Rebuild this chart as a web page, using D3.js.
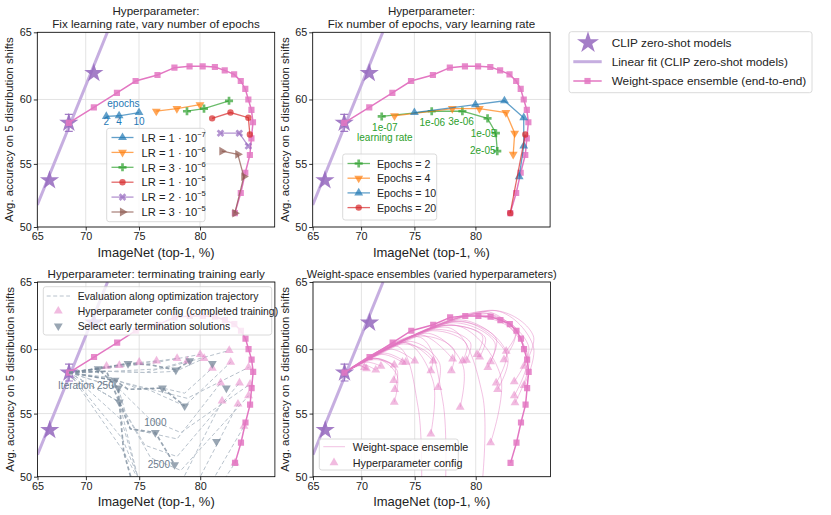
<!DOCTYPE html>
<html><head><meta charset="utf-8">
<script src="https://cdn.jsdelivr.net/npm/d3@7"></script>
<style>
body{margin:0;background:#fff}
svg text{font-family:"Liberation Sans","DejaVu Sans",sans-serif;fill:#222}
</style></head><body>
<svg id="fig" width="831" height="515"></svg>
<script>
// ---- data ----
var xTicks=[65,70,75,80], yTicks=[50,55,60,65];

// CLIP zero-shot models and linear fit
var clipX=[66.3,68.3,70.8], clipY=[53.7,58.2,62.0];
var clipErr=0.65;
var fitX=[65,72.1], fitY=[51.75,65];

// weight-space ensemble (end-to-end), alpha 0 .. 1
var wiseX=[68.3,70.8,73.0,74.7,76.6,78.0,79.2,80.2,81.1,81.8,82.45,82.9,83.2,83.4,83.6,83.7,83.6,83.5,83.2,82.9,82.5];
var wiseY=[58.2,59.4,60.5,61.4,61.85,62.4,62.5,62.5,62.45,62.2,61.9,61.4,60.8,60.0,59.2,58.25,57.0,55.7,54.3,52.7,51.1];

// fix learning rate, vary epochs (2, 4, 10, 20)
var lrMant=[1,1,3,1,2,3], lrExp=[-7,-6,-6,-5,-5,-5];
var lrX=[[72.0,73.2,75.0],[76.5,78.2,80.0],[79.0,80.3,82.1],[80.9,82.2,83.4,83.5],[81.5,82.8,83.4],[81.6,82.7,83.1,82.5]];
var lrY=[[58.7,58.75,59.0],[59.1,59.3,59.6],[59.1,59.3,59.9],[58.55,59.0,58.6,57.3],[57.4,57.4,56.4],[56.0,55.75,54.0,51.1]];
var epochs=[2,4,10,20];

// fix epochs, vary learning rate
var epX=[[72.0,76.5,79.0,80.9,81.5,81.6],[73.2,78.2,80.3,82.2,82.8,82.7],[75.0,80.0,82.1,83.4,83.4,83.1],[83.5,82.5]];
var epY=[[58.7,59.1,59.1,58.55,57.4,56.0],[58.75,59.3,59.3,59.0,57.4,55.75],[59.0,59.6,59.9,58.6,56.4,54.0],[57.3,51.1]];
var lrLabels=['1e-07','1e-06','3e-06','1e-05','2e-05','learning rate'];
var lrLabelX=[72.3,76.55,78.9,80.6,80.55,72.3], lrLabelY=[57.6,57.97,58.0,57.1,55.74,56.8];

// early termination: evaluations along each optimization trajectory (light dashed)
var trajX=[[68.3,70.0,72.0],[68.3,70.5,73.2],[68.3,71.0,75.0],[68.3,71.0,74.0,76.5],[68.3,71.5,75.0,78.2],[68.3,71.5,76.0,80.0],
  [68.3,72.0,75.5,79.0],[68.3,72.0,76.0,78.1,80.3],[68.3,72.5,77.0,82.1],[68.3,72.5,75.0,77.0,78.8,80.9],
  [68.3,72.8,76.0,78.8,82.2],[68.3,72.8,76.5,79.0,83.4],[68.3,73.1,76.0,78.5,83.5],[68.3,73.1,74.2,78.2,81.5],
  [68.3,73.2,75.5,78.2,82.8],[68.3,73.2,76.0,78.5,83.4],[68.3,73.2,75.0,78.0,81.6],[68.3,73.4,75.5,79.0,82.7],
  [68.3,73.5,76.0,80.0,83.1],[68.3,73.6,76.5,81.0,82.5]];
var trajY=[[58.2,58.4,58.7],[58.2,58.4,58.75],[58.2,58.5,59.0],[58.2,58.5,58.9,59.1],[58.2,58.5,58.9,59.3],[58.2,58.5,58.9,59.6],
  [58.2,58.3,58.2,59.1],[58.2,58.3,58.2,58.3,59.3],[58.2,58.3,58.5,59.9],[58.2,57.8,56.9,57.0,56.6,58.55],
  [58.2,57.6,56.8,55.6,59.0],[58.2,57.6,56.8,56.2,58.6],[58.2,57.0,54.5,53.5,57.3],[58.2,57.0,53.8,53.0,57.4],
  [58.2,55.9,52.5,51.6,57.4],[58.2,55.9,51.5,50.5,56.4],[58.2,55.9,49.5,48.5,56.0],[58.2,54.5,48.0,48.0,55.75],
  [58.2,53.0,47.5,48.0,54.0],[58.2,52.0,47.0,48.5,51.1]];
// select early termination solutions (dark dashed) and their points
var earlyX=[[68.3,71.2,73.1,73.2,73.6,74.3,74.6],[68.3,72.8,74.0,77.0,78.8],[68.3,71.2,74.0,76.0,78.1,79.2],[68.3,72.0,73.2,74.2,76.4,78.0]];
var earlyY=[[58.2,58.5,57.0,55.9,52.0,49.8,48.5],[58.2,57.6,56.9,57.0,55.6],[58.2,58.5,58.9,58.8,58.4,59.1],[58.2,58.3,55.9,53.8,53.5,50.95]];
var earlyPtX=[71.2,72.8,73.1,73.2,74.0,77.0,78.1,78.8,79.2,80.9,81.9,81.2,76.4,78.0];
var earlyPtY=[58.5,57.6,57.0,55.9,58.9,57.0,58.4,55.6,59.1,58.9,57.0,52.8,53.5,50.95];
var iterLabels=['Iteration 250','1000','2500'], iterLabX=[70.0,76.4,76.7], iterLabY=[56.95,54.05,50.7];

// varied hyperparameters: end point, peak and shoulder of each ensemble curve
var hpX=[70.3,70.5,71.4,71.9,73.15,73.1,73.2,73.15,73.9,74.2,75.0,76.4,76.6,76.4,77.0,78.1,78.2,78.8,79.0,79.3,80.1,80.3,80.9,81.1,81.1,81.5,81.6,82.05,82.2,82.75,82.75,82.8,83.4,83.4,75.6,77.6,80.4];
var hpY=[58.6,58.5,58.4,58.7,58.8,57.6,56.9,55.9,59.0,59.0,59.1,58.35,59.1,53.4,57.05,58.35,59.25,55.5,59.1,59.15,59.6,59.4,58.6,59.05,52.7,57.4,56.9,59.2,59.85,57.5,56.4,55.85,58.7,57.2,48.5,48.5,48.5];
var hpPkX=[69.5,69.6,70.2,70.5,71.3,71.3,71.4,71.4,72.0,72.2,72.8,74.0,74.2,74.2,74.6,75.5,75.5,76.2,76.5,76.8,77.5,77.6,78.3,78.4,78.5,79.0,79.0,79.6,79.8,80.8,80.8,81.0,81.5,81.5,73.5,75.5,78.0];
var hpPkY=[58.8,58.75,58.8,59.0,59.3,59.2,59.3,59.3,59.6,59.7,60.0,60.4,60.5,60.5,60.6,61.0,61.1,61.2,61.4,61.5,61.8,61.8,62.0,62.1,61.8,62.2,62.1,62.5,62.6,62.7,62.7,62.8,62.9,62.9,60.2,60.9,61.6];
var hpShX=[NaN,NaN,NaN,NaN,NaN,73.2,73.4,73.4,NaN,NaN,NaN,76.5,NaN,76.6,77.1,78.3,NaN,79.0,79.3,79.6,80.5,80.7,81.4,81.5,81.8,82.2,82.3,82.8,82.9,83.7,83.6,83.7,84.0,84.0,75.3,77.4,80.5];
var hpShY=[NaN,NaN,NaN,NaN,NaN,58.6,58.4,58.0,NaN,NaN,NaN,59.4,NaN,57.5,59.0,60.0,NaN,58.8,60.4,60.5,61.0,60.9,60.5,60.8,58.0,59.8,59.4,61.2,61.5,60.2,59.5,59.3,61.0,60.2,55.5,56.0,56.5];

// ---- drawing ----
var svg=d3.select('#fig');
var W=237.4, H=194.7;
var C={purple:'#9467bd',fit:'#c6aee0',pink:'#e377c2',blue:'#1f77b4',orange:'#ff7f0e',green:'#2ca02c',red:'#d62728',brown:'#8c564b',slate:'#778899'};
var lrColors=[C.blue,C.orange,C.green,C.red,C.purple,C.brown];
var epColors=[C.green,C.orange,C.blue,C.red];

function logit(v){var p=v/100;return Math.log(p/(1-p));}
function scaleLogit(dom,rng){
  var lin=d3.scaleLinear().domain(dom.map(logit)).range(rng);
  function s(v){return lin(logit(v));}
  s.domain=function(){return dom;};
  s.range=function(){return rng;};
  s.copy=function(){return scaleLogit(dom,rng);};
  return s;
}
function zip(a,b){return a.map(function(v,i){return [v,b[i]];});}

// marker shapes like matplotlib ^ v P o X >
var shapes={
  up:{t:d3.symbolTriangle,r:0,s:34},
  down:{t:d3.symbolTriangle,r:180,s:34},
  right:{t:d3.symbolTriangle,r:90,s:34},
  plus:{t:d3.symbolCross,r:0,s:36},
  xx:{t:d3.symbolCross,r:45,s:36},
  circle:{t:d3.symbolCircle,r:0,s:32},
  square:{t:d3.symbolSquare,r:0,s:38},
  star:{t:d3.symbolStar,r:0,s:115}
};
var lrShapes=['up','down','plus','circle','xx','right'];
var epShapes=['plus','down','up','circle'];

function marker(g,name,cx,cy,color,op,size){
  var sh=shapes[name];
  return g.append('path').attr('d',d3.symbol(sh.t,size||sh.s)())
    .attr('transform','translate('+cx+','+cy+') rotate('+sh.r+')')
    .attr('fill',color).attr('fill-opacity',op);
}

function makePanel(p){
  var P={};
  P.x=scaleLogit([65,85.05],[p.left,p.left+W]);
  P.y=scaleLogit([50,65],[p.top+H,p.top]);
  var g=svg.append('g');
  g.selectAll('.gx').data(xTicks).enter().append('line')
    .attr('x1',P.x).attr('x2',P.x).attr('y1',p.top).attr('y2',p.top+H)
    .attr('stroke','#dcdcdc').attr('stroke-width',0.8);
  g.selectAll('.gy').data(yTicks).enter().append('line')
    .attr('y1',P.y).attr('y2',P.y).attr('x1',p.left).attr('x2',p.left+W)
    .attr('stroke','#dcdcdc').attr('stroke-width',0.8);
  svg.append('clipPath').attr('id','clip-'+p.id).append('rect')
    .attr('x',p.left).attr('y',p.top).attr('width',W).attr('height',H);
  P.plot=svg.append('g').attr('clip-path','url(#clip-'+p.id+')');
  P.top=svg.append('g');
  P.line=d3.line().x(function(d){return P.x(d[0]);}).y(function(d){return P.y(d[1]);});
  P.curve=d3.line().curve(d3.curveCatmullRom).x(function(d){return P.x(d[0]);}).y(function(d){return P.y(d[1]);});
  P.p=p;
  return P;
}

function finishPanel(P){
  var p=P.p, g=svg.append('g');
  var ax=g.append('g').attr('transform','translate(0,'+(p.top+H)+')')
    .call(d3.axisBottom(P.x).tickValues(xTicks).tickSize(3.5).tickPadding(2).tickFormat(d3.format('d')));
  var ay=g.append('g').attr('transform','translate('+p.left+',0)')
    .call(d3.axisLeft(P.y).tickValues(yTicks).tickSize(3.5).tickPadding(2).tickFormat(d3.format('d')));
  [ax,ay].forEach(function(a){
    a.select('.domain').remove();
    a.selectAll('line').attr('stroke','#000').attr('stroke-width',0.8);
    a.selectAll('text').attr('font-size',10.8).attr('fill','#222').style('font-family','"Liberation Sans",sans-serif');
  });
  g.append('rect').attr('x',p.left).attr('y',p.top).attr('width',W).attr('height',H)
    .attr('fill','none').attr('stroke','#000').attr('stroke-width',0.8);
  var cx=p.left+W/2;
  p.title.forEach(function(t,i){
    g.append('text').attr('x',cx).attr('y',p.top-(p.title.length-1-i)*12.5-4.5)
      .attr('text-anchor','middle').attr('font-size',p.tsize||11.6).text(t);
  });
  g.append('text').attr('x',cx).attr('y',p.top+H+29.5).attr('text-anchor','middle')
    .attr('font-size',13).text('ImageNet (top-1, %)');
  g.append('text').attr('transform','translate('+(p.left-24)+','+(p.top+H/2)+') rotate(-90)')
    .attr('text-anchor','middle').attr('font-size',11.4).text('Avg. accuracy on 5 distribution shifts');
}

function drawCommon(P){
  var g=P.plot;
  g.append('path').attr('d',P.line(zip(fitX,fitY))).attr('stroke',C.fit).attr('stroke-width',3).attr('fill','none');
  clipX.forEach(function(v,i){ marker(g,'star',P.x(v),P.y(clipY[i]),C.purple,0.85); });
  var ex=P.x(clipX[1]);
  g.append('path').attr('d','M'+(ex-4)+','+P.y(clipY[1]+clipErr)+'h8M'+ex+','+P.y(clipY[1]+clipErr)+'V'+P.y(clipY[1]-clipErr)+'M'+(ex-4)+','+P.y(clipY[1]-clipErr)+'h8')
    .attr('stroke',C.purple).attr('stroke-opacity',0.85).attr('stroke-width',1.2).attr('fill','none');
  g.append('path').attr('d',P.line(zip(wiseX,wiseY))).attr('stroke',C.pink).attr('stroke-width',1.5).attr('fill','none');
  wiseX.forEach(function(v,i){ marker(g,'square',P.x(v),P.y(wiseY[i]),C.pink,0.85); });
}

function legendBox(x0,y0,x1,y1){
  svg.append('rect').attr('x',x0).attr('y',y0).attr('width',x1-x0).attr('height',y1-y0).attr('rx',2.5)
    .attr('fill','#fff').attr('fill-opacity',0.8).attr('stroke','#d0d0d0').attr('stroke-width',0.8);
}

function series(P,xs,ys,colors,shp){
  xs.forEach(function(arr,k){
    P.plot.append('path').attr('d',P.line(zip(arr,ys[k]))).attr('stroke',colors[k]).attr('stroke-opacity',0.7)
      .attr('stroke-width',1.3).attr('fill','none');
    arr.forEach(function(v,i){ marker(P.plot,shp[k],P.x(v),P.y(ys[k][i]),colors[k],0.7); });
  });
}

// --- top left ---
var TL=makePanel({id:'tl',left:37.3,top:32.3,title:['Hyperparameter:','Fix learning rate, vary number of epochs']});
drawCommon(TL);
series(TL,lrX,lrY,lrColors,lrShapes);
TL.top.append('text').attr('x',TL.x(73.6)).attr('y',TL.y(59.4)).attr('text-anchor','middle')
  .attr('font-size',10).style('fill',C.blue).text('epochs');
epochs.slice(0,3).forEach(function(e,i){
  TL.top.append('text').attr('x',TL.x(lrX[0][i])).attr('y',TL.y(58.0)).attr('text-anchor','middle')
    .attr('font-size',10).style('fill',C.blue).text(e);
});
finishPanel(TL);
legendBox(106.7,128.3,205,221.7);
lrMant.forEach(function(m,i){
  var yy=137.5+i*14.9;
  svg.append('line').attr('x1',111.5).attr('x2',133.5).attr('y1',yy).attr('y2',yy)
    .attr('stroke',lrColors[i]).attr('stroke-opacity',0.7).attr('stroke-width',1.3);
  marker(svg,lrShapes[i],122.5,yy,lrColors[i],0.7);
  var t=svg.append('text').attr('x',141.5).attr('y',yy+4.2).attr('font-size',11.2);
  t.append('tspan').text('LR = '+m+' \u00b7 10');
  t.append('tspan').attr('dy',-5).attr('font-size',7.5).text('\u2212'+(-lrExp[i]));
});

// --- top right ---
var TR=makePanel({id:'tr',left:312.7,top:32.3,title:['Hyperparameter:','Fix number of epochs, vary learning rate']});
drawCommon(TR);
series(TR,epX,epY,epColors,epShapes);
lrLabels.forEach(function(l,i){
  TR.top.append('text').attr('x',TR.x(lrLabelX[i])).attr('y',TR.y(lrLabelY[i])).attr('text-anchor','middle')
    .attr('font-size',10).style('fill',C.green).text(l);
});
finishPanel(TR);
legendBox(342.7,154,436.7,220);
epochs.forEach(function(e,i){
  var yy=163.5+i*14.7;
  svg.append('line').attr('x1',347.5).attr('x2',370).attr('y1',yy).attr('y2',yy)
    .attr('stroke',epColors[i]).attr('stroke-opacity',0.7).attr('stroke-width',1.3);
  marker(svg,epShapes[i],358.7,yy,epColors[i],0.7);
  svg.append('text').attr('x',377).attr('y',yy+4).attr('font-size',10.6).text('Epochs = '+e);
});

// --- bottom left ---
var BL=makePanel({id:'bl',left:37.5,top:282,title:['Hyperparameter: terminating training early']});
drawCommon(BL);
trajX.forEach(function(arr,k){
  BL.plot.append('path').attr('d',BL.line(zip(arr,trajY[k]))).attr('fill','none')
    .attr('stroke','#b8c2cc').attr('stroke-width',1).attr('stroke-dasharray','4,2.5');
});
earlyX.forEach(function(arr,k){
  BL.plot.append('path').attr('d',BL.line(zip(arr,earlyY[k]))).attr('fill','none')
    .attr('stroke',C.slate).attr('stroke-opacity',0.75).attr('stroke-width',1.7).attr('stroke-dasharray','4,2.5');
});
lrX.forEach(function(arr,k){ arr.forEach(function(v,i){ marker(BL.plot,'up',BL.x(v),BL.y(lrY[k][i]),C.pink,0.5); }); });
earlyPtX.forEach(function(v,i){ marker(BL.plot,'down',BL.x(v),BL.y(earlyPtY[i]),C.slate,0.75); });
iterLabels.forEach(function(l,i){
  BL.top.append('text').attr('x',BL.x(iterLabX[i])).attr('y',BL.y(iterLabY[i])).attr('text-anchor','middle')
    .attr('font-size',10).style('fill','#6b7b8c').text(l);
});
finishPanel(BL);
legendBox(43.3,286.7,271.7,335);
svg.append('line').attr('x1',46.7).attr('x2',70).attr('y1',296).attr('y2',296)
  .attr('stroke','#b8c2cc').attr('stroke-width',1).attr('stroke-dasharray','4,2.5');
marker(svg,'up',58.3,311,C.pink,0.5);
marker(svg,'down',58.3,326,C.slate,0.75);
['Evaluation along optimization trajectory','Hyperparameter config (completed training)','Select early termination solutions'].forEach(function(t,i){
  svg.append('text').attr('x',77.7).attr('y',300+i*15).attr('font-size',10.4).text(t);
});

// --- bottom right ---
var BR=makePanel({id:'br',left:313,top:282,tsize:11,title:['Weight-space ensembles (varied hyperparameters)']});
hpX.forEach(function(v,i){
  var pts=[[wiseX[0],wiseY[0]],[hpPkX[i],hpPkY[i]]];
  if(!isNaN(hpShX[i])) pts.push([hpShX[i],hpShY[i]]);
  pts.push([v,hpY[i]]);
  BR.plot.append('path').attr('d',BR.curve(pts))
    .attr('fill','none').attr('stroke',C.pink).attr('stroke-opacity',0.45).attr('stroke-width',1);
});
drawCommon(BR);
hpX.forEach(function(v,i){ marker(BR.plot,'up',BR.x(v),BR.y(hpY[i]),C.pink,0.5); });
finishPanel(BR);
legendBox(319.3,439,458.3,470);
svg.append('line').attr('x1',323.3).attr('x2',345).attr('y1',446.7).attr('y2',446.7)
  .attr('stroke',C.pink).attr('stroke-opacity',0.45).attr('stroke-width',1);
marker(svg,'up',334,462.7,C.pink,0.5);
svg.append('text').attr('x',352.7).attr('y',450.8).attr('font-size',10.8).text('Weight-space ensemble');
svg.append('text').attr('x',352.7).attr('y',466.8).attr('font-size',10.8).text('Hyperparameter config');

// --- figure legend ---
legendBox(569,31.7,812,92.7);
marker(svg,'star',588,42.7,C.purple,0.85,150);
svg.append('line').attr('x1',573.3).attr('x2',601.7).attr('y1',61.7).attr('y2',61.7).attr('stroke',C.fit).attr('stroke-width',3);
svg.append('line').attr('x1',573.3).attr('x2',601.7).attr('y1',81).attr('y2',81).attr('stroke',C.pink).attr('stroke-width',1.5);
marker(svg,'square',587.5,81,C.pink,0.85);
['CLIP zero-shot models','Linear fit (CLIP zero-shot models)','Weight-space ensemble (end-to-end)'].forEach(function(t,i){
  svg.append('text').attr('x',611.7).attr('y',[46.8,65.8,85.1][i]).attr('font-size',11.8).text(t);
});
</script></body></html>
